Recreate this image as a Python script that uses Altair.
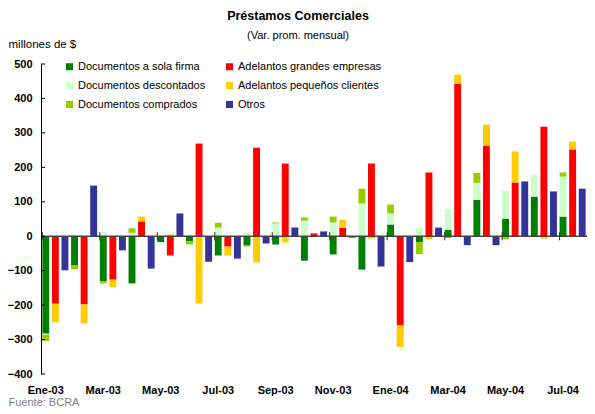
import json
import altair as alt
import pandas as pd

months = ["Ene-03", "Feb-03", "Mar-03", "Abr-03", "May-03", "Jun-03", "Jul-03",
          "Ago-03", "Sep-03", "Oct-03", "Nov-03", "Dic-03", "Ene-04", "Feb-04",
          "Mar-04", "Abr-04", "May-04", "Jun-04", "Jul-04"]

sola_firma  = [-283, -85, -131, -137, -17, -15, -56, -27, -24, -71, -53, -97, 34, -18, 19, 106, 51, 115, 57]
descontados = [-3, 5, 11, 10, 0, 5, 25, 11, 37, 45, 40, 95, 32, 25, 58, 49, 81, 64, 116]
comprados   = [-18, -11, -6, 13, 0, -9, 14, -3, 3, 9, 17, 43, 26, -34, -6, 29, -9, 0, 12]
grandes     = [-196, -198, -126, 43, -56, 269, -30, 257, 211, 8, 25, 211, -259, 185, 443, 263, 156, 318, 252]
pequenos    = [-54, -55, -22, 14, 5, -195, -26, -76, -18, 0, 23, -7, -63, -9, 26, 61, 90, -7, 23]
otros       = [-99, 147, -41, -94, 66, -74, -65, -21, 25, 14, -4, -88, -75, 25, -26, -26, 159, 130, 138]

series_names = ["Documentos a sola firma", "Documentos descontados", "Documentos comprados",
                "Adelantos grandes empresas", "Adelantos pequeños clientes", "Otros"]
series_vals = [sola_firma, descontados, comprados, grandes, pequenos, otros]
series_group = ["a", "a", "a", "b", "b", "c"]
series_order = [0, 1, 2, 0, 1, 0]
series_colors = ["#008000", "#CCFFCC", "#99CC00", "#FF0000", "#FFCC00", "#333399"]

rows = []
for i, m in enumerate(months):
    for name, vals, grp, o in zip(series_names, series_vals, series_group, series_order):
        rows.append({"slot": f"{i:02d}{grp}", "serie": name, "valor": vals[i], "orden": o})
df = pd.DataFrame(rows)

slots = [f"{i:02d}{g}" for i in range(len(months)) for g in "abc"]
label_keys = [f"{i:02d}a" for i in range(0, len(months), 2)]
label_vals = [months[i] for i in range(0, len(months), 2)]
K = json.dumps(label_keys)
L = json.dumps(label_vals)
label_expr = f"indexof({K}, datum.value) >= 0 ? {L}[indexof({K}, datum.value)] : ''"

FONT = "Liberation Sans"
y_values = list(range(-400, 501, 100))

xscale = alt.Scale(domain=slots, paddingInner=0.28, paddingOuter=0.14)
yscale = alt.Scale(domain=[-400, 500], nice=False)

x_axis = alt.Axis(values=label_keys, labelExpr=label_expr, ticks=False, domain=False,
                  labelAngle=0, labelFontWeight="bold", labelFontSize=11, labelPadding=10,
                  labelColor="black", title="Fuente: BCRA", titleX=-33, titleY=28,
                  titleAlign="left", titleBaseline="middle", titleFontWeight="normal",
                  titleFontSize=11, titleColor="#7f7f7f", titleAngle=0)
y_axis = alt.Axis(values=y_values, tickCount=10, ticks=False, grid=False, labelOverlap=False,
                  domainColor="black", labelFontWeight="bold", labelFontSize=11,
                  labelPadding=9, labelColor="black", title="millones de $",
                  titleAngle=0, titleX=-33, titleY=-20, titleAlign="left",
                  titleBaseline="middle", titleFontWeight="normal", titleFontSize=11.5,
                  titleColor="black")

bars = alt.Chart(df).mark_bar().encode(
    x=alt.X("slot:N", scale=xscale, sort=slots, axis=x_axis),
    y=alt.Y("valor:Q", stack="zero", scale=yscale, axis=y_axis),
    color=alt.Color("serie:N", scale=alt.Scale(domain=series_names, range=series_colors),
                    legend=alt.Legend(orient="none", legendX=23, legendY=-3, columns=2,
                                      title=None, symbolType="square", symbolSize=49,
                                      symbolStrokeWidth=0, labelFontSize=11, labelFont=FONT,
                                      rowPadding=7, columnPadding=18, labelOffset=3)),
    order=alt.Order("orden:Q", sort="ascending"),
)

tick_df = pd.DataFrame({"slot": label_keys, "valor": [-12] * len(label_keys),
                        "valor_top": [12] * len(label_keys)})
xticks = alt.Chart(tick_df).mark_rule(color="#333333", strokeWidth=1).encode(
    x=alt.X("slot:N", scale=xscale, sort=slots, bandPosition=0, axis=x_axis),
    y=alt.Y("valor:Q", scale=yscale, axis=y_axis),
    y2="valor_top:Q",
)

ytick_df = pd.DataFrame({"valor": y_values})
yticks = alt.Chart(ytick_df).mark_rule(color="black", strokeWidth=1).encode(
    y=alt.Y("valor:Q", scale=yscale, axis=y_axis),
    x=alt.value(0),
    x2=alt.value(4),
)

zero_df = pd.DataFrame({"valor": [0]})
zero = alt.Chart(zero_df).mark_rule(color="#444444", strokeWidth=1.6).encode(
    y=alt.Y("valor:Q", scale=yscale, axis=y_axis)
)

chart = alt.layer(bars, zero, xticks, yticks).properties(
    width=546, height=310,
    autosize=alt.AutoSizeParams(type="none"),
    padding={"left": 33, "top": 56, "right": 0, "bottom": 32},
    title=alt.Title("Préstamos Comerciales", subtitle="(Var. prom. mensual)",
                    fontSize=12.5, fontWeight="bold", subtitleFontSize=11, anchor="middle",
                    dx=-16, dy=3, offset=0, subtitlePadding=8, font=FONT, subtitleFont=FONT,
                    color="black", subtitleColor="black"),
).configure(font=FONT).configure_view(stroke=None)

chart.save("out.html", embed_options={"renderer": "svg", "actions": False})
